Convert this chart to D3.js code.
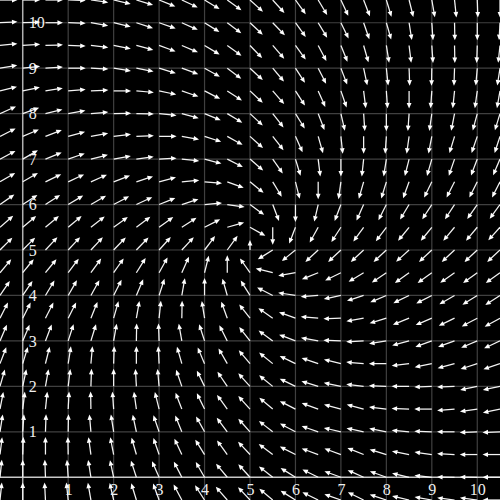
<!DOCTYPE html>
<html>
<head>
<meta charset="utf-8">
<script src="https://cdn.jsdelivr.net/npm/d3@7"></script>
<style>
html,body{margin:0;padding:0;background:#000;}
svg{display:block;}
</style>
</head>
<body>
<svg id="chart" width="500" height="500"></svg>
<script>
// Grid of arrow tail positions (data units)
const xCats = [-0.5,0,0.5,1,1.5,2,2.5,3,3.5,4,4.5,5,5.5,6,6.5,7,7.5,8,8.5,9,9.5,10,10.5];
const yCats = [10.5,10,9.5,9,8.5,8,7.5,7,6.5,6,5.5,5,4.5,4,3.5,3,2.5,2,1.5,1,0.5,0,-0.5];
const tickValues = [1,2,3,4,5,6,7,8,9,10];
const tickLabels = ["1","2","3","4","5","6","7","8","9","10"];

// Arrow directions (degrees, counter-clockwise from +x), one array per row, left to right
const a10_5 = [0,0,0,-2,-8,-13,-17,-22,-25,-31,-36,-42,-48,-54,-59,-65,-69,-73,-76,-80,-84,-88,-90];
const a10_0 = [3,2,0,-2,-10,-13,-18,-19,-24,-32,-37,-43,-46,-54,-59,-64,-71,-74,-81,-86,-89,-90,-93];
const a9_5  = [6,4,2,-2,-7,-11,-15,-20,-23,-31,-36,-46,-49,-54,-62,-68,-74,-81,-83,-86,-89,-92,-96];
const a9_0  = [10,6,4,0,-3,-9,-11,-17,-20,-29,-37,-43,-50,-57,-63,-69,-78,-84,-88,-91,-92,-95,-99];
const a8_5  = [14,12,9,5,3,0,-5,-12,-19,-27,-33,-43,-49,-57,-66,-71,-83,-86,-90,-94,-96,-98,-100];
const a8_0  = [24,20,14,10,5,1,-1,-6,-15,-22,-31,-43,-52,-58,-69,-77,-86,-90,-94,-98,-101,-105,-107];
const a7_5  = [27,23,21,15,10,7,2,0,-10,-18,-29,-42,-52,-66,-74,-84,-90,-94,-98,-101,-107,-109,-108];
const a7_0  = [28,30,22,19,14,10,8,3,-6,-15,-27,-41,-55,-73,-83,-90,-96,-99,-104,-106,-109,-111,-113];
const a6_5  = [30,30,26,25,24,21,18,15,5,-5,-20,-39,-59,-76,-90,-98,-106,-107,-110,-116,-117,-117,-117];
const a6_0  = [35,33,33,31,30,28,25,22,18,5,-8,-36,-69,-90,-103,-111,-114,-117,-121,-123,-123,-125,-126];
const a5_5  = [41,40,40,40,38,36,37,36,33,27,16,-29,-90,-111,-119,-123,-126,-127,-129,-129,-130,-130,-132];
const a5_0  = [45,45,47,47,47,46,46,48,47,53,54,90,-148,-141,-137,-137,-137,-137,-138,-137,-137,-137,-137];
const a4_5  = [50,51,51,53,54,55,58,61,66,76,90,125,166,-170,-158,-154,-149,-146,-144,-144,-145,-144,-144];
const a4_0  = [56,56,59,60,61,63,67,72,80,90,106,122,153,171,-176,-168,-162,-157,-154,-153,-150,-148,-147];
const a3_5  = [63,63,63,63,68,74,80,84,89,99,110,128,145,160,175,-178,-170,-163,-158,-157,-154,-152,-151];
const a3_0  = [67,67,69,72,73,80,89,92,100,108,117,128,144,159,170,178,-177,-171,-165,-160,-160,-157,-155];
const a2_5  = [69,73,76,81,85,88,90,93,106,113,120,130,141,154,161,166,175,180,-173,-168,-165,-162,-161];
const a2_0  = [74,78,80,83,88,90,93,95,109,116,124,132,141,154,163,168,173,178,180,-178,-178,-168,-168];
const a1_5  = [79,83,84,87,91,94,98,104,111,116,126,132,140,153,160,165,165,173,178,180,-175,-172,-168];
const a1_0  = [81,86,88,89,95,99,102,109,112,119,127,132,142,152,161,167,168,169,175,178,180,-178,-178];
const a0_5  = [83,88,90,91,98,101,106,109,115,122,126,133,143,153,160,160,158,163,169,172,177,180,180];
const a0_0  = [84,90,92,94,99,102,108,114,117,120,130,132,142,148,154,160,156,160,167,174,179,179,180];
const am0_5 = [84,90,93,96,100,103,107,110,118,123,131,133,140,148,154,161,154,162,167,170,173,173,180];
const angleRows = [a10_5,a10_0,a9_5,a9_0,a8_5,a8_0,a7_5,a7_0,a6_5,a6_0,a5_5,a5_0,a4_5,a4_0,a3_5,a3_0,a2_5,a2_0,a1_5,a1_0,a0_5,a0_0,am0_5];

// Relative magnitudes that differ from 1
const shortVectors = [{x:5, y:5, m:0.57}];

const W = 500, H = 500;
const svg = d3.select("#chart");
svg.append("rect").attr("width", W).attr("height", H).attr("fill", "#000");

const x = d3.scaleLinear().domain([-0.5, 10.5]).range([0, W]);
const y = d3.scaleLinear().domain([-0.5, 10.5]).range([H, 0]);

// grid lines
const grid = svg.append("g");
grid.selectAll("line.v").data(tickValues).join("line")
  .attr("x1", d => x(d)).attr("x2", d => x(d)).attr("y1", 0).attr("y2", H)
  .attr("stroke", "#404040").attr("stroke-width", 1.2);
grid.selectAll("line.h").data(tickValues).join("line")
  .attr("y1", d => y(d)).attr("y2", d => y(d)).attr("x1", 0).attr("x2", W)
  .attr("stroke", "#404040").attr("stroke-width", 1.2);

// axis lines at zero
svg.append("line").attr("x1", x(0)).attr("x2", x(0)).attr("y1", 0).attr("y2", H)
  .attr("stroke", "#b0b0b0").attr("stroke-width", 1.5);
svg.append("line").attr("y1", y(0)).attr("y2", y(0)).attr("x1", 0).attr("x2", W)
  .attr("stroke", "#c8c8c8").attr("stroke-width", 1.6);

// axes (labels only)
const fmt = (d) => tickLabels[tickValues.indexOf(d)];
const xAxis = svg.append("g").attr("transform", `translate(0,${y(0)})`)
  .call(d3.axisBottom(x).tickValues(tickValues).tickFormat(fmt).tickSize(0).tickPadding(6));
const yAxis = svg.append("g").attr("transform", `translate(${x(0)},0)`)
  .call(d3.axisRight(y).tickValues(tickValues).tickFormat(fmt).tickSize(0).tickPadding(6));
[xAxis, yAxis].forEach(g => {
  g.select(".domain").remove();
  g.selectAll("text").attr("fill", "#f0f0f0")
    .style("font-family", "'Liberation Serif', 'DejaVu Serif', serif")
    .style("font-size", "16px");
});

// vectors
const unitLen = 0.385; // data units for magnitude 1
const vectors = [];
yCats.forEach((yv, j) => {
  xCats.forEach((xv, i) => {
    const s = shortVectors.find(v => v.x === xv && v.y === yv);
    vectors.push({x: xv, y: yv, a: angleRows[j][i], m: s ? s.m : 1});
  });
});

const headLen = 5.5, headHalf = 2.4;
const arrows = svg.append("g");
vectors.forEach(v => {
  const rad = v.a * Math.PI / 180;
  const x0 = x(v.x), y0 = y(v.y);
  const x1 = x(v.x + unitLen * v.m * Math.cos(rad));
  const y1 = y(v.y + unitLen * v.m * Math.sin(rad));
  const dx = x1 - x0, dy = y1 - y0;
  const len = Math.hypot(dx, dy);
  const ux = dx / len, uy = dy / len;
  const bx = x1 - ux * headLen, by = y1 - uy * headLen;
  arrows.append("line")
    .attr("x1", x0).attr("y1", y0).attr("x2", bx + ux*0.5).attr("y2", by + uy*0.5)
    .attr("stroke", "#f4f4f4").attr("stroke-width", 1.25);
  arrows.append("path")
    .attr("d", `M${x1},${y1}L${bx - uy*headHalf},${by + ux*headHalf}L${bx + uy*headHalf},${by - ux*headHalf}Z`)
    .attr("fill", "#ffffff");
});
</script>
</body>
</html>
